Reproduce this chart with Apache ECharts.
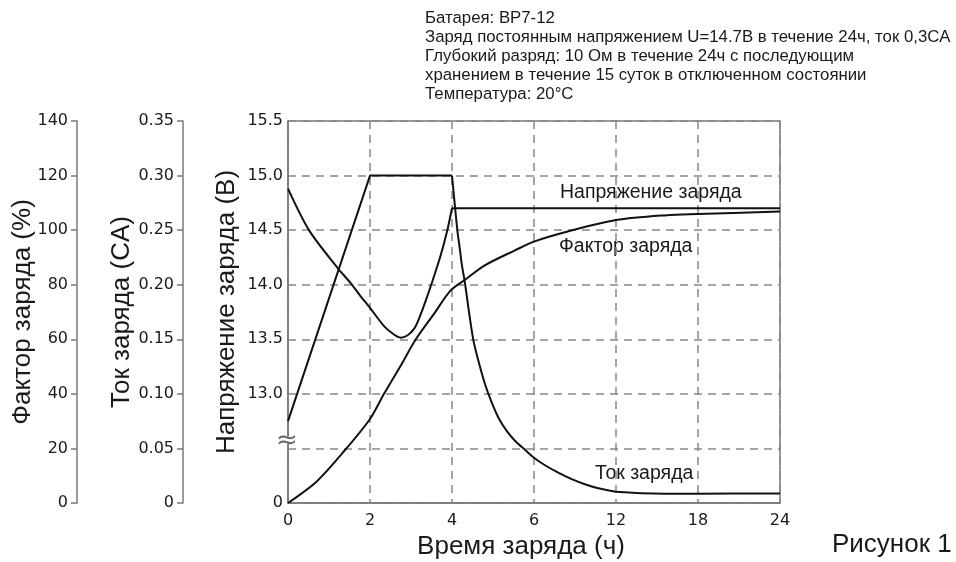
<!DOCTYPE html>
<html><head><meta charset="utf-8">
<script src="https://cdn.jsdelivr.net/npm/echarts@6/dist/echarts.min.js"></script>
<style>html,body{margin:0;padding:0;background:#fff}#c{width:956px;height:562px}</style>
</head><body><div id="c"></div>
<script>
// X tick labels (hours) at equally spaced axis positions 0..6
const xLabels = ['0', '2', '4', '6', '12', '18', '24'];

// Voltage axis: broken scale, bottom two ticks are "0" and the break mark
const voltageTickLabels = { '12.0': '0', '12.5': '', '13.0': '13.0', '13.5': '13.5', '14.0': '14.0', '14.5': '14.5', '15.0': '15.0', '15.5': '15.5' };

// [axis position, value]
const voltageData = [
  [0, 14.88], [0.256, 14.5], [0.601, 14.157], [0.764, 14.015], [0.886, 13.894],
  [1.0, 13.788], [1.171, 13.621], [1.272, 13.555], [1.374, 13.515], [1.455, 13.535],
  [1.537, 13.595], [1.598, 13.69], [1.659, 13.81], [1.76, 14.03], [1.862, 14.27],
  [1.943, 14.5], [2, 14.7], [3, 14.7], [4, 14.7], [5, 14.7], [6, 14.7]
];
const currentData = [
  [0, 0.075], [1, 0.30], [2, 0.30], [2.065, 0.25], [2.098, 0.2315], [2.118, 0.2193],
  [2.159, 0.201], [2.199, 0.1794], [2.26, 0.1495], [2.321, 0.1305], [2.402, 0.109],
  [2.484, 0.0921], [2.565, 0.0784], [2.667, 0.0661], [2.768, 0.057], [2.89, 0.0487],
  [3, 0.0415], [3.134, 0.0346], [3.296, 0.0278], [3.46, 0.0218], [3.62, 0.0172],
  [3.784, 0.0135], [4, 0.0104], [4.6, 0.0085], [5, 0.0085], [6, 0.0088]
];
const factorData = [
  [0, 0], [0.357, 8.1], [0.704, 19.7], [1, 30.8], [1.171, 40.0], [1.374, 50.3],
  [1.557, 59.9], [1.78, 69.3], [1.984, 77.9], [2.159, 81.8], [2.40, 87.1], [2.768, 92.6],
  [3, 95.8], [3.4, 99.4], [4, 103.7], [4.62, 105.5], [5, 105.9], [6, 106.8]
];

const titleLines = [
  'Батарея: BP7-12',
  'Заряд постоянным напряжением U=14.7В в течение 24ч, ток 0,3CA',
  'Глубокий разряд: 10 Ом в течение 24ч с последующим',
  'хранением в течение 15 суток в отключенном состоянии',
  'Температура: 20°C'
];

const TXT = '#1a1a1a';
const AX = '#7a7a7a';
const tickFont = { fontFamily: 'DejaVu Sans', fontSize: 16, color: TXT };
const nameFont = { fontFamily: 'Liberation Sans', fontSize: 26, color: TXT };

const chart = echarts.init(document.getElementById('c'), null, { renderer: 'canvas' });
const lineStyle = { color: '#111', width: 2 };
const KNEE = 2; // end of the constant-current stage (axis position)

chart.setOption({
  animation: false,
  backgroundColor: '#fff',
  grid: { left: 288, right: 176, top: 121, bottom: 59, show: true, borderColor: AX, borderWidth: 1.5, outerBoundsMode: 'none', containLabel: false },
  xAxis: {
    type: 'value', min: 0, max: 6, interval: 1,
    axisLine: { show: true, lineStyle: { color: AX, width: 1.5 } },
    axisTick: { show: false },
    axisLabel: Object.assign({ margin: 10, formatter: v => xLabels[Math.round(v)] }, tickFont),
    splitLine: { show: true, lineStyle: { color: '#888', type: [8, 6], width: 1.5 } },
    name: 'Время заряда (ч)', nameLocation: 'middle', nameGap: 31, nameMoveOverlap: false,
    nameTextStyle: Object.assign({}, nameFont, { padding: [0, 26, 0, 0] })
  },
  yAxis: [
    {
      type: 'value', min: 12, max: 15.5, interval: 0.5, position: 'left', offset: 0,
      axisLine: { show: true, lineStyle: { color: AX, width: 1.5 } },
      axisTick: { show: false },
      axisLabel: Object.assign({ margin: 5, formatter: v => voltageTickLabels[v.toFixed(1)] }, tickFont),
      splitLine: { show: true, lineStyle: { color: '#888', type: [8, 6], width: 1.5 } },
      name: 'Напряжение заряда (В)', nameLocation: 'middle', nameGap: 48, nameMoveOverlap: false, nameTextStyle: nameFont
    },
    {
      type: 'value', min: 0, max: 0.35, interval: 0.05, position: 'left', offset: 105,
      axisLine: { show: true, lineStyle: { color: AX, width: 1.5 } },
      axisTick: { show: true, inside: false, length: 6, lineStyle: { color: AX, width: 1.5 } },
      axisLabel: Object.assign({ margin: 9, formatter: v => v === 0 ? '0' : v.toFixed(2) }, tickFont),
      splitLine: { show: false },
      name: 'Ток заряда (CA)', nameLocation: 'middle', nameGap: 48, nameMoveOverlap: false, nameTextStyle: nameFont
    },
    {
      type: 'value', min: 0, max: 140, interval: 20, position: 'left', offset: 211,
      axisLine: { show: true, lineStyle: { color: AX, width: 1.5 } },
      axisTick: { show: true, inside: false, length: 6, lineStyle: { color: AX, width: 1.5 } },
      axisLabel: Object.assign({ margin: 9 }, tickFont),
      splitLine: { show: false },
      name: 'Фактор заряда (%)', nameLocation: 'middle', nameGap: 41, nameMoveOverlap: false, nameTextStyle: nameFont
    }
  ],
  series: [
    // voltage: curved part up to the knee, then the constant-voltage plateau
    { name: 'Напряжение заряда', type: 'line', yAxisIndex: 0, data: voltageData.filter(p => p[0] <= KNEE), showSymbol: false, smooth: 0.3, lineStyle },
    { name: 'Напряжение заряда', type: 'line', yAxisIndex: 0, data: voltageData.filter(p => p[0] >= KNEE), showSymbol: false, smooth: false, lineStyle },
    // current: constant-current stage (straight), then decay curve
    { name: 'Ток заряда', type: 'line', yAxisIndex: 1, data: currentData.filter(p => p[0] <= KNEE), showSymbol: false, smooth: false, lineStyle },
    { name: 'Ток заряда', type: 'line', yAxisIndex: 1, data: currentData.filter(p => p[0] >= KNEE), showSymbol: false, smooth: 0.3, lineStyle },
    { name: 'Фактор заряда', type: 'line', yAxisIndex: 2, data: factorData, showSymbol: false, smooth: 0.3, lineStyle }
  ],
  graphic: [
    { type: 'text', left: 425, top: 8.5, style: { text: titleLines.join('\n'), font: '16.8px "Liberation Sans"', fill: TXT, lineHeight: 19 } },
    { type: 'text', x: 560, y: 193, style: { text: 'Напряжение заряда', font: '19.5px "Liberation Sans"', fill: TXT, verticalAlign: 'middle' } },
    { type: 'text', x: 559, y: 247, style: { text: 'Фактор заряда', font: '19.5px "Liberation Sans"', fill: TXT, verticalAlign: 'middle' } },
    { type: 'text', x: 595, y: 474, style: { text: 'Ток заряда', font: '19.5px "Liberation Sans"', fill: TXT, verticalAlign: 'middle' } },
    { type: 'text', x: 832, y: 545, style: { text: 'Рисунок 1', font: '26px "Liberation Sans"', fill: TXT, verticalAlign: 'middle' } },
    { type: 'rect', shape: { x: 285, y: 436, width: 6, height: 8 }, style: { fill: '#fff' }, z: 100 },
    { type: 'text', x: 287, y: 441, z: 101, style: { text: '≈', font: '26px "DejaVu Sans"', fill: '#666', align: 'center', verticalAlign: 'middle' } }
  ]
});
</script></body></html>
